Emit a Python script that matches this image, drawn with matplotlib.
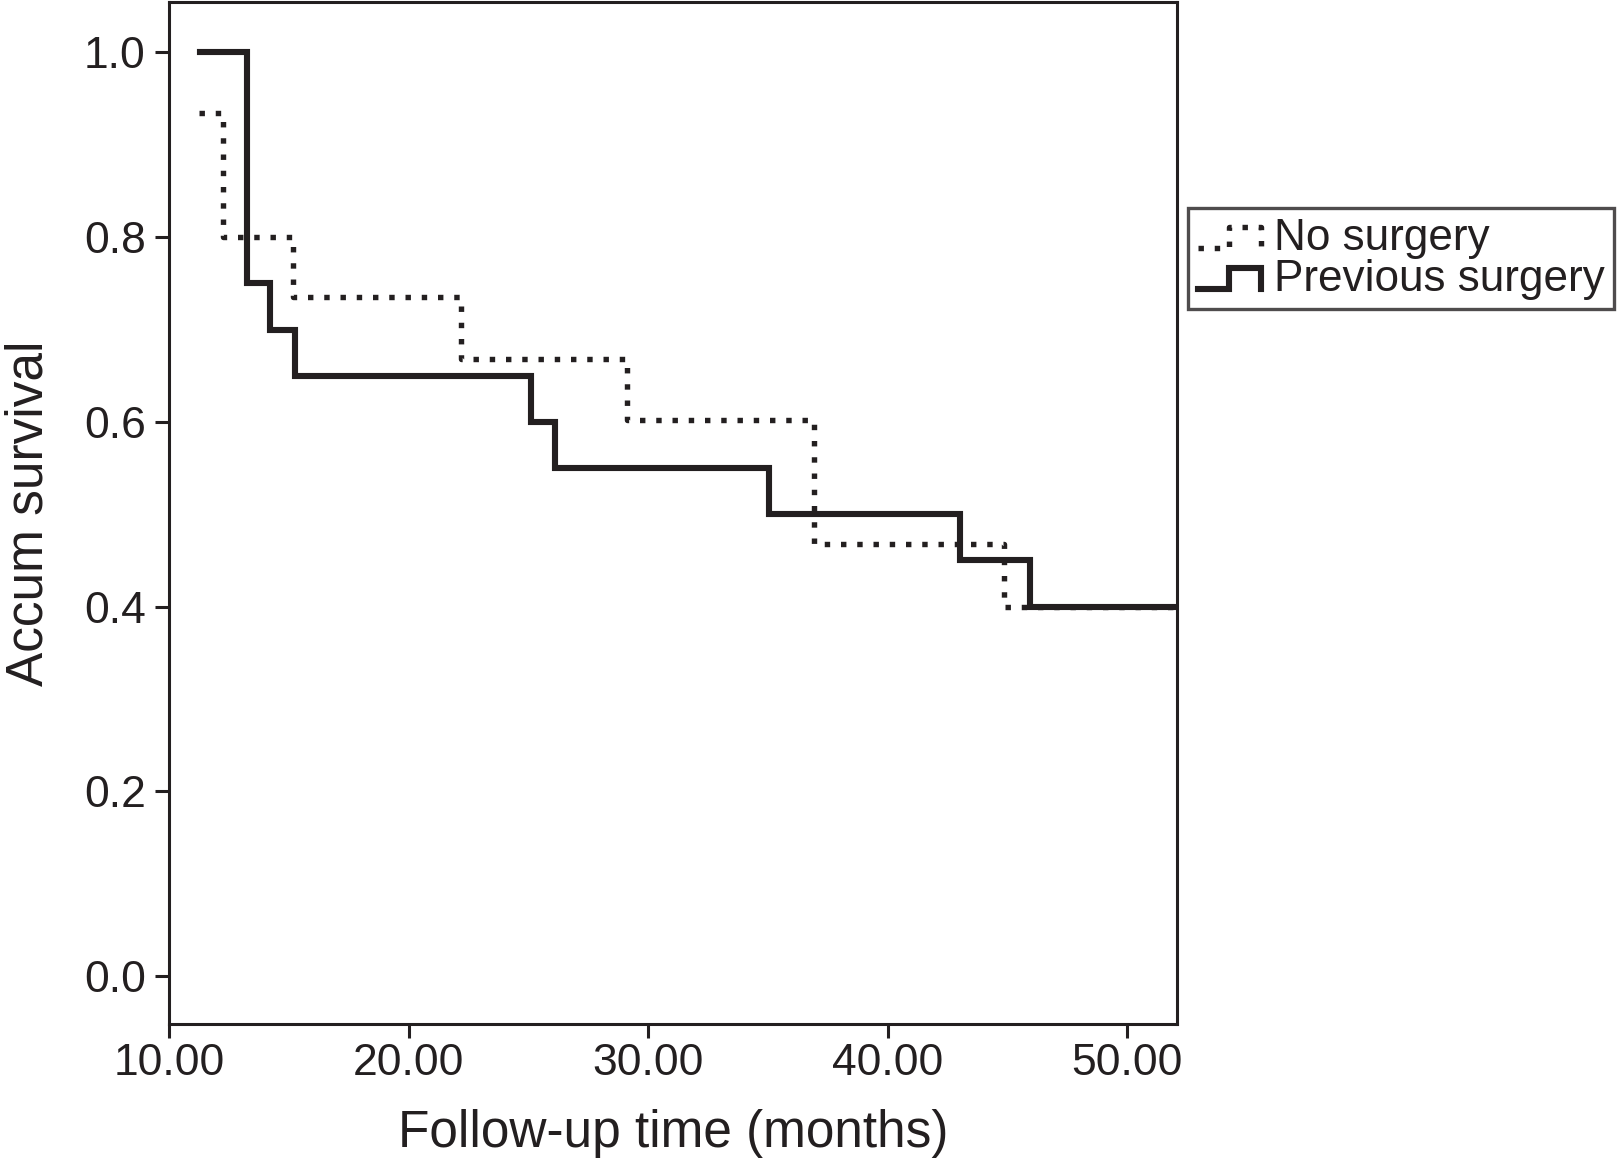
import matplotlib
matplotlib.use("Agg")
import matplotlib.pyplot as plt
from matplotlib.lines import Line2D
from matplotlib.legend_handler import HandlerBase

# ---- data ----
prev_times = [11.3, 13.25, 14.2, 15.25, 25.1, 26.1, 35.05, 43.03, 45.95, 52.1]
prev_surv = [1.0, 0.75, 0.70, 0.65, 0.60, 0.55, 0.50, 0.45, 0.40, 0.40]

nosurg_times = [11.22, 12.23, 15.18, 22.17, 29.13, 36.93, 44.88, 52.1]
nosurg_surv = [0.935, 0.80, 0.735, 0.668, 0.602, 0.468, 0.40, 0.40]

series_labels = ["No surgery", "Previous surgery"]
x_ticks = [10, 20, 30, 40, 50]
x_ticklabels = ["10.00", "20.00", "30.00", "40.00", "50.00"]
y_ticks = [0.0, 0.2, 0.4, 0.6, 0.8, 1.0]
y_ticklabels = ["0.0", "0.2", "0.4", "0.6", "0.8", "1.0"]
x_label = "Follow-up time (months)"
y_label = "Accum survival"

INK = "#231f20"
plt.rcParams["font.family"] = ["Liberation Sans", "DejaVu Sans"]

W, H = 1621, 1159
fig = plt.figure(figsize=(W / 100, H / 100), dpi=100)
ax = fig.add_axes([169.3 / W, 1 - 1024 / H, (1177.3 - 169.3) / W, (1024 - 1.7) / H])

l_no, = ax.step(nosurg_times, nosurg_surv, where="post", color=INK,
                linewidth=3.9, dashes=(1.0, 2.0), dash_capstyle="butt",
                label=series_labels[0])
l_prev, = ax.step(prev_times, prev_surv, where="post", color=INK,
                  linewidth=4.4, solid_joinstyle="miter",
                  label=series_labels[1])

ax.set_xlim(10, 52.1)
ax.set_ylim(-0.052, 1.055)
ax.set_xticks(x_ticks)
ax.set_xticklabels(x_ticklabels)
ax.set_yticks(y_ticks)
ax.set_yticklabels(y_ticklabels)
ax.tick_params(axis="both", direction="out", length=10, width=2.2,
               colors=INK, labelsize=32)
ax.tick_params(axis="y", pad=7)
ax.tick_params(axis="x", pad=4)
for s in ax.spines.values():
    s.set_linewidth(2.2)
    s.set_color(INK)

ax.set_xlabel(x_label, fontsize=37, color=INK, labelpad=18)
ax.set_ylabel(y_label, fontsize=37, color=INK, labelpad=22)


class StepHandler(HandlerBase):
    def create_artists(self, legend, orig_handle, xdescent, ydescent,
                       width, height, fontsize, trans):
        x0 = -xdescent
        y0 = -ydescent
        lo = y0 + 0.05 * height
        hi = y0 + 0.75 * height
        xs = [x0, x0 + 0.5 * width, x0 + 0.5 * width, x0 + width, x0 + width]
        ys = [lo, lo, hi, hi, lo]
        line = Line2D(xs, ys)
        self.update_prop(line, orig_handle, legend)
        line.set_transform(trans)
        return [line]


leg = fig.legend(handles=[l_no, l_prev], labels=series_labels,
                 loc="upper left",
                 bbox_to_anchor=(1188.3 / W, 1 - 208 / H),
                 bbox_transform=fig.transFigure,
                 fontsize=31.8, frameon=True, fancybox=False, shadow=False,
                 borderpad=0.22, borderaxespad=0, handlelength=1.42,
                 handletextpad=0.3, labelspacing=0.0,
                 handler_map={Line2D: StepHandler()})
leg.get_frame().set_edgecolor(INK)
leg.get_frame().set_linewidth(2.4)
for t in leg.get_texts():
    t.set_color(INK)

fig.savefig("out.png", dpi=100)
